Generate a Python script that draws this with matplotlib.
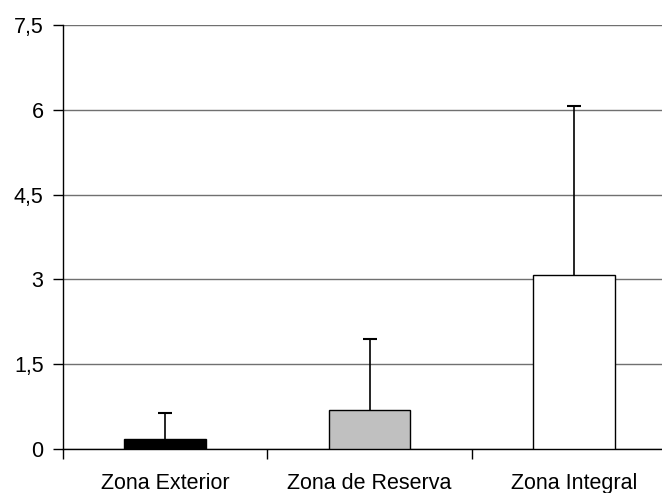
import matplotlib
matplotlib.use("Agg")
import matplotlib.pyplot as plt
from matplotlib.ticker import FixedLocator, FuncFormatter

zones = ["Zona Exterior", "Zona de Reserva", "Zona Integral"]
means = [0.17, 0.685, 3.07]
upper_err = [0.47, 1.265, 3.0]
fill_colors = ["black", "#c0c0c0", "white"]
y_ticks = [0, 1.5, 3, 4.5, 6, 7.5]

plt.rcParams["font.family"] = ["Liberation Sans", "DejaVu Sans"]

W, H = 662, 493
fig = plt.figure(figsize=(W / 100, H / 100), dpi=100)
# plot area runs past the right edge of the figure
ax = fig.add_axes([63 / W, 1 - 449 / H, 613 / W, 424 / H])

x = list(range(len(zones)))
ax.bar(x, means, width=0.4, color=fill_colors, edgecolor="black",
       linewidth=1, zorder=3)
eb = ax.errorbar(x, means, yerr=[[0] * len(means), upper_err], fmt="none",
                 ecolor="black", elinewidth=1.2, capsize=4.8, capthick=1.5,
                 zorder=4)
# only the upper whisker gets a cap
eb[1][0].set_visible(False)

ax.set_xlim(-0.5, len(zones) - 0.5)
ax.set_ylim(0, 7.5)
ax.yaxis.set_major_locator(FixedLocator(y_ticks))
ax.yaxis.set_major_formatter(
    FuncFormatter(lambda v, p: ("%g" % v).replace(".", ",")))
ax.grid(axis="y", color="#707070", linewidth=1, zorder=0)

# category labels centred, ticks on category boundaries
ax.set_xticks([i - 0.5 for i in range(len(zones) + 1)])
ax.set_xticklabels([])
ax.set_xticks(x, minor=True)
ax.set_xticklabels(zones, minor=True, fontsize=15.5)
ax.tick_params(axis="x", which="minor", length=0, pad=17)
ax.tick_params(axis="x", which="major", length=7, width=1, color="black")
ax.tick_params(axis="y", length=7, width=1, labelsize=15.5, pad=7)

for side in ("top", "right"):
    ax.spines[side].set_visible(False)
ax.spines["left"].set_linewidth(1)
ax.spines["bottom"].set_linewidth(1)

fig.savefig("out.png", dpi=100)
